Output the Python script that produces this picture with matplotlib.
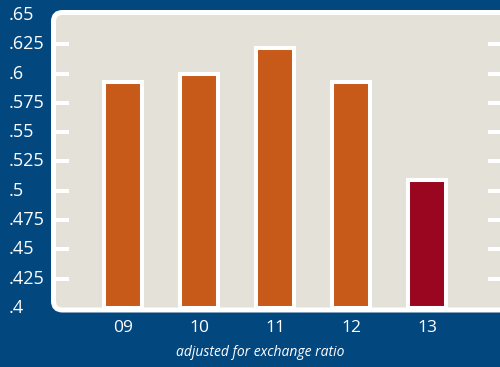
import matplotlib
matplotlib.use("Agg")
import matplotlib.pyplot as plt
import matplotlib.transforms as mtransforms
from matplotlib.patches import FancyBboxPatch

# values per year (adjusted for exchange ratio)
years = ["09", "10", "11", "12", "13"]
values = [0.593, 0.600, 0.622, 0.593, 0.509]
bar_colors = ["#C85A19", "#C85A19", "#C85A19", "#C85A19", "#9A0620"]
y_ticks = [0.4, 0.425, 0.45, 0.475, 0.5, 0.525, 0.55, 0.575, 0.6, 0.625, 0.65]
y_labels = [".4", ".425", ".45", ".475", ".5", ".525", ".55", ".575", ".6", ".625", ".65"]
subtitle = "adjusted for exchange ratio"

BLUE = "#03477F"
PANEL = "#E4E2D8"
W, H, DPI = 500, 367, 100

plt.rcParams["font.family"] = ["Open Sans", "DejaVu Sans"]

fig = plt.figure(figsize=(W / DPI, H / DPI), dpi=DPI, facecolor=BLUE)

# rounded panel behind the plot, in pixel coords
panel = FancyBboxPatch((53.5, H - 310), 520, 310 - 12.5,
                       boxstyle="round,pad=0,rounding_size=9",
                       transform=mtransforms.IdentityTransform(),
                       facecolor=PANEL, edgecolor="white", linewidth=3.6, zorder=-1)
fig.patches.append(panel)

left, right, top, bottom = 56, 500, 15, 308
ax = fig.add_axes([left / W, 1 - bottom / H, (right - left) / W, (bottom - top) / H])
ax.set_facecolor("none")
for s in ax.spines.values():
    s.set_visible(False)

px = 76.0  # pixels per category
ax.set_xlim(-(123 - left) / px, 4 + (right - 427) / px)
ax.set_ylim(0.4, 0.65)

x = range(len(years))
ax.bar(x, [v - 0.4 for v in values], bottom=0.4, width=0.5, color=bar_colors,
       edgecolor="white", linewidth=2.9, zorder=3)

# white tick marks on both sides, only inner ticks
ax.set_yticks(y_ticks[1:-1])
ax.set_yticklabels([])
ax.tick_params(axis="y", which="major", direction="in", length=9, width=2.9,
               color="white", left=True, right=True, labelleft=False)
ax.set_xticks([])

trans_y = mtransforms.blended_transform_factory(fig.transFigure, ax.transData)
for t, lab in zip(y_ticks, y_labels):
    ax.text(9 / W, t, lab, transform=trans_y, ha="left", va="center",
            color="white", fontsize=13, clip_on=False)

trans_x = mtransforms.blended_transform_factory(ax.transData, fig.transFigure)
for i, yr in enumerate(years):
    ax.text(i, 1 - 328 / H, yr, transform=trans_x, ha="center", va="center",
            color="white", fontsize=12.5, clip_on=False)

fig.text(260 / W, 1 - 353 / H, subtitle, ha="center", va="center",
         color="white", fontsize=10, style="italic")

fig.savefig("out.png", dpi=DPI, facecolor=BLUE)
